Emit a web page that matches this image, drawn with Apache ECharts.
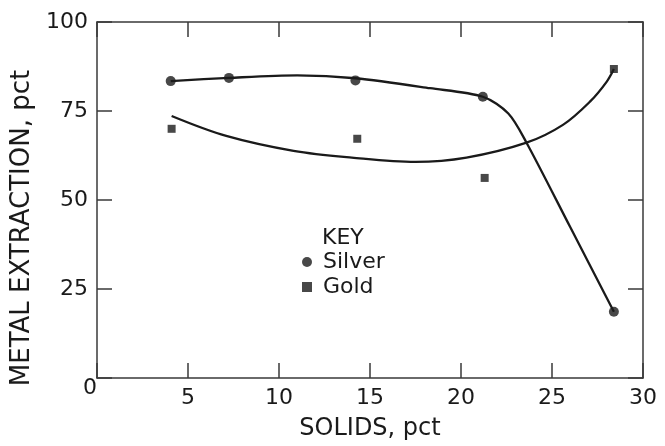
<!DOCTYPE html>
<html>
<head>
<meta charset="utf-8">
<script src="https://cdn.jsdelivr.net/npm/echarts@6/dist/echarts.min.js"></script>
<style>html,body{margin:0;padding:0;background:#fff}#c{width:665px;height:446px}</style>
</head>
<body>
<div id="c"></div>
<script>
// Measured data points
const silverSolids = [4.05, 7.25, 14.2, 21.2, 28.4];
const silverExtraction = [83.4, 84.3, 83.6, 79.0, 18.6];
const goldSolids = [4.1, 14.3, 21.3, 28.4];
const goldExtraction = [70.0, 67.2, 56.2, 86.8];

// Fitted curves
const silverCurveX = [4.05, 7.25, 11.0, 14.2, 18.3, 21.2, 22.6, 23.6, 26.0, 28.4];
const silverCurveY = [83.4, 84.3, 85.0, 84.2, 81.4, 79.0, 74.3, 66.1, 42.4, 18.6];
const goldCurveX = [4.1, 7.1, 10.8, 14.0, 17.5, 20.3, 23.6, 25.6, 27.1, 28.0, 28.4];
const goldCurveY = [73.6, 68.0, 63.8, 61.9, 60.7, 61.9, 66.1, 71.1, 77.7, 83.2, 86.8];

// Axes
const xMin = 0, xMax = 30, xStep = 5;
const yMin = 0, yMax = 100, yStep = 25;
const xTitle = 'SOLIDS, pct';
const yTitle = 'METAL EXTRACTION, pct';
const keyTitle = 'KEY';
const seriesNames = ['Silver', 'Gold'];

const FONT = 'DejaVu Sans';
const INK = '#1a1a1a';

const zip = (a, b) => a.map((v, i) => [v, b[i]]);

const chart = echarts.init(document.getElementById('c'), null, {renderer: 'canvas'});

const axisCommon = {
  axisLine: {show: true, onZero: false, lineStyle: {color: '#3a3a3a', width: 1.5}},
  axisTick: {show: true, inside: true, length: 15, lineStyle: {color: '#3a3a3a', width: 1.5}},
  splitLine: {show: false}
};

chart.setOption({
  animation: false,
  backgroundColor: '#fff',
  grid: {left: 97, right: 22, top: 22, bottom: 61, containLabel: false},
  title: {
    text: keyTitle, left: 322, top: 227, padding: 0,
    textStyle: {fontFamily: FONT, fontSize: 22, fontWeight: 'normal', color: INK}
  },
  legend: {
    orient: 'vertical', left: 302, top: 251, padding: 0, itemGap: 3,
    itemWidth: 10, itemHeight: 10,
    data: seriesNames,
    textStyle: {fontFamily: FONT, fontSize: 22, color: INK, lineHeight: 22, padding: [0, 0, 0, 6]}
  },
  xAxis: [
    Object.assign({}, axisCommon, {
      type: 'value', min: xMin, max: xMax, interval: xStep, position: 'bottom',
      name: xTitle, nameLocation: 'middle', nameGap: 39,
      nameTextStyle: {fontFamily: FONT, fontSize: 24, color: INK},
      axisLabel: {margin: 9, fontFamily: FONT, fontSize: 22, color: INK,
        formatter: v => v === 0 ? '' : String(v)}
    }),
    Object.assign({}, axisCommon, {
      type: 'value', min: xMin, max: xMax, interval: xStep, position: 'top',
      axisLabel: {show: false}
    })
  ],
  yAxis: [
    Object.assign({}, axisCommon, {
      type: 'value', min: yMin, max: yMax, interval: yStep, position: 'left',
      name: yTitle, nameLocation: 'middle', nameGap: 56,
      nameTextStyle: {fontFamily: FONT, fontSize: 26, color: INK, padding: [0, 56, 0, 0]},
      axisLabel: {margin: 9, fontFamily: FONT, fontSize: 22, color: INK, padding: [4, 0, 0, 0],
        formatter: v => v === 0 ? '' : String(v)}
    }),
    Object.assign({}, axisCommon, {
      type: 'value', min: yMin, max: yMax, interval: yStep, position: 'right',
      axisLabel: {show: false}
    })
  ],
  series: [
    {
      name: 'Silver fit', type: 'line', data: zip(silverCurveX, silverCurveY),
      smooth: 0.3, showSymbol: false, silent: true,
      lineStyle: {color: INK, width: 2.3}, z: 2
    },
    {
      name: 'Gold fit', type: 'line', data: zip(goldCurveX, goldCurveY),
      smooth: 0.35, showSymbol: false, silent: true,
      lineStyle: {color: INK, width: 2.3}, z: 2
    },
    {
      name: seriesNames[0], type: 'scatter', data: zip(silverSolids, silverExtraction),
      symbol: 'circle', symbolSize: 10, itemStyle: {color: INK}, z: 3
    },
    {
      name: seriesNames[1], type: 'scatter', data: zip(goldSolids, goldExtraction),
      symbol: 'rect', symbolSize: 8, itemStyle: {color: INK}, z: 3
    }
  ]
});

// Origin "0" label, placed from the axis scale
const o = chart.convertToPixel({gridIndex: 0}, [0, 0]);
chart.setOption({
  graphic: [{
    type: 'text', x: o[0] - 7, y: o[1] + 10,
    style: {text: '0', fontFamily: FONT, fontSize: 22, fill: INK, align: 'center', verticalAlign: 'middle'}
  }]
});
</script>
</body>
</html>
